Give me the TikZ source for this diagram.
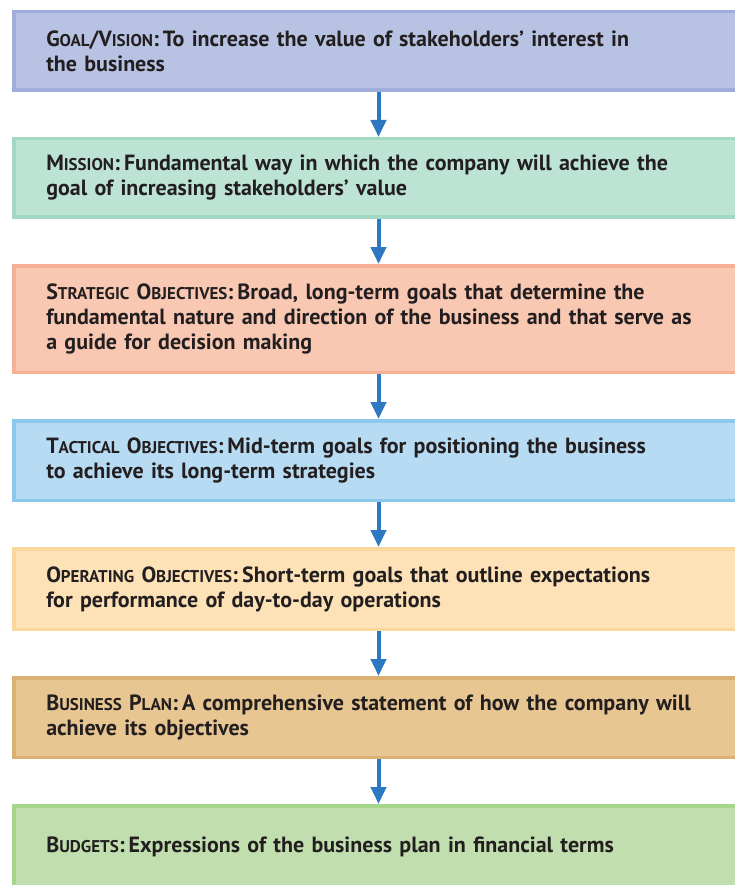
\documentclass[tikz,border=0pt]{standalone}
\usepackage{fontspec}
\usepackage{tikz}
\usetikzlibrary{arrows.meta,positioning}
\newfontfamily\boxfont{PT Sans}
\definecolor{textgray}{HTML}{231F20}
\definecolor{arrowblue}{HTML}{2E78C2}
\definecolor{goalfill}{HTML}{B8C3E3}
\definecolor{goalline}{HTML}{A0ACD9}
\definecolor{missionfill}{HTML}{BDE3D4}
\definecolor{missionline}{HTML}{A3D8C2}
\definecolor{strategicfill}{HTML}{F9C8B3}
\definecolor{strategicline}{HTML}{F6B095}
\definecolor{tacticalfill}{HTML}{B6DBF2}
\definecolor{tacticalline}{HTML}{8CC8EC}
\definecolor{operatingfill}{HTML}{FDE2B8}
\definecolor{operatingline}{HTML}{FBD79E}
\definecolor{planfill}{HTML}{E7C691}
\definecolor{planline}{HTML}{DBB073}
\definecolor{budgetfill}{HTML}{C1DFAE}
\definecolor{budgetline}{HTML}{A6D58C}
\newcommand{\smc}[1]{{\fontsize{17}{25}\selectfont #1}}

\begin{document}
\begin{tikzpicture}[x=1pt,y=1pt,
    box/.style n args={3}{rectangle, fill=#1, draw=#2, line width=3.5pt,
      minimum height=#3, text width=664.5pt, inner xsep=32.5pt, align=left,
      font=\boxfont\bfseries\fontsize{22}{25}\selectfont, text=textgray},
    flow/.style={arrowblue, line width=4pt, -{Triangle[width=15pt,length=17pt]}}]
  \useasboundingbox (0,0) rectangle (734,-885);
  \node[box={goalfill}{goalline}{78.5pt}, anchor=north] (goal) at (378.5,-10)
    {G\smc{OAL}/V\smc{ISION}:\hspace{4pt}To increase the value of stakeholders’ interest in\\the business};
  \node[box={missionfill}{missionline}{78.5pt}, below=45pt of goal] (mission)
    {M\smc{ISSION}:\hspace{4pt}Fundamental way in which the company will achieve the\\goal of increasing stakeholders’ value};
  \node[box={strategicfill}{strategicline}{106.5pt}, below=45pt of mission] (strategic)
    {S\smc{TRATEGIC} O\smc{BJECTIVES}:\hspace{4pt}Broad, long-term goals that determine the\\fundamental nature and direction of the business and that serve as\\a guide for decision making};
  \node[box={tacticalfill}{tacticalline}{79.5pt}, below=45pt of strategic] (tactical)
    {T\smc{ACTICAL} O\smc{BJECTIVES}:\hspace{4pt}Mid-term goals for positioning the business\\to achieve its long-term strategies};
  \node[box={operatingfill}{operatingline}{80.5pt}, below=45pt of tactical] (operating)
    {O\smc{PERATING} O\smc{BJECTIVES}:\hspace{4pt}Short-term goals that outline expectations\\for performance of day-to-day operations};
  \node[box={planfill}{planline}{79.5pt}, below=45pt of operating] (plan)
    {B\smc{USINESS} P\smc{LAN}:\hspace{4pt}A comprehensive statement of how the company will\\achieve its objectives};
  \node[box={budgetfill}{budgetline}{82pt}, below=45pt of plan] (budgets)
    {B\smc{UDGETS}:\hspace{4pt}Expressions of the business plan in financial terms};
  \draw[flow] (goal) -- (mission);
  \draw[flow] (mission) -- (strategic);
  \draw[flow] (strategic) -- (tactical);
  \draw[flow] (tactical) -- (operating);
  \draw[flow] (operating) -- (plan);
  \draw[flow] (plan) -- (budgets);
\end{tikzpicture}
\end{document}
